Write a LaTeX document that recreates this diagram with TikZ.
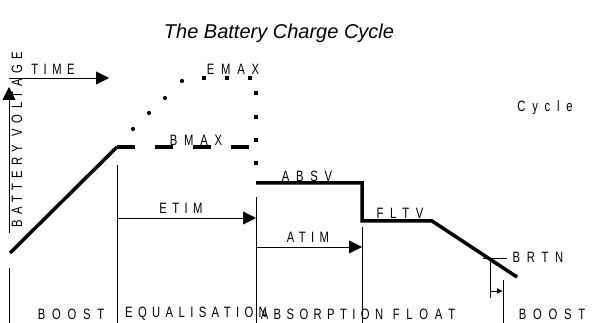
\documentclass[tikz,border=0pt]{standalone}
\usepackage{fontspec}
\setmainfont{Liberation Sans}
\newfontfamily\wide[FakeStretch=0.75,LetterSpace=45]{Liberation Sans}
\newfontfamily\snug[FakeStretch=0.75,LetterSpace=36]{Liberation Sans}
\usetikzlibrary{arrows.meta,positioning}
\tikzset{
  charge/.style={line width=3.5pt},
  guide/.style={line width=0.9pt},
  bigarrow/.style={guide,-{Triangle[length=13pt,width=13pt]}},
  lbl/.style={font=\wide\fontsize{15}{15}\selectfont,inner sep=0pt},
  stage/.style={font=\snug\fontsize{15}{15}\selectfont,inner sep=0pt},
}

\begin{document}
\begin{tikzpicture}[x=1pt,y=-1pt]
    \useasboundingbox (0,0) rectangle (600,323);
    \node (title) at (279,33) {\fontsize{20}{20}\selectfont\itshape The Battery Charge Cycle};

    % axes
    \coordinate (ax0) at (9,233);
    \coordinate (ax1) at (9,87);
    \coordinate (ax2) at (9,268);
    \coordinate (ax3) at (9,323);
    \coordinate (tm0) at (9,78);
    \coordinate (tm1) at (109,78);
    \draw[bigarrow] (ax0) -- (ax1);
    \draw[guide] (ax2) -- (ax3);
    \draw[bigarrow] (tm0) -- (tm1);
    \node[stage,rotate=90] (volt) at (17,140) {BATTERY VOLTAGE};
    \node[stage] (time) at (53,69) {TIME};

    % charge curve
    \coordinate (c0) at (10,253);
    \coordinate (c1) at (117,147);
    \coordinate (c2) at (250,147);
    \coordinate (a0) at (256,183);
    \coordinate (a1) at (362,183);
    \coordinate (f0) at (362,221);
    \coordinate (f1) at (432,221);
    \coordinate (r1) at (517,277);
    \draw[charge] (c0) -- (c1);
    \draw[charge,dash pattern=on 18pt off 20pt] (c1) -- (c2);
    \draw[charge] (a0) -- (a1) -- (f0) -- (f1) -- (r1);
    \foreach \x/\y in {133/129,149/113,165/98,182/81}
      \fill (\x,\y) circle (2.1pt);
    \foreach \x/\y in {204/78,227/78,250/78,256/93,256/117,256/140,256/163}
      \fill (\x-1.9,\y-1.9) rectangle (\x+1.9,\y+1.9);

    \node[lbl] (emax) at (233,69) {EMAX};
    \node[lbl] (bmax) at (196,140) {BMAX};
    \node[lbl] (absv) at (307,176) {ABSV};
    \node[lbl] (fltv) at (400,213) {FLTV};
    \node[lbl] (cycle) at (545,108) {Cycle};

    % stage boundaries
    \coordinate (e0) at (117,165);
    \coordinate (e1) at (117,323);
    \coordinate (b0) at (256,197);
    \coordinate (b1) at (256,323);
    \coordinate (d0) at (362,227);
    \coordinate (d1) at (362,323);
    \draw[guide] (e0) -- (e1);
    \draw[guide] (b0) -- (b1);
    \draw[guide] (d0) -- (d1);

    % timers
    \coordinate (et0) at (117,218);
    \coordinate (et1) at (256,218);
    \coordinate (at0) at (256,247);
    \coordinate (at1) at (362,247);
    \draw[bigarrow] (et0) -- (et1);
    \draw[bigarrow] (at0) -- (at1);
    \node[stage] (etim) at (181,208) {ETIM};
    \node[stage] (atim) at (308,237) {ATIM};

    % return to boost
    \coordinate (br0) at (483,258);
    \coordinate (br1) at (507,258);
    \coordinate (rv0) at (490,258);
    \coordinate (rv1) at (490,298);
    \coordinate (rw0) at (503,280);
    \coordinate (rw1) at (503,323);
    \coordinate (rd0) at (490,291);
    \coordinate (rd1) at (503,291);
    \draw[guide] (br0) -- (br1);
    \draw[guide] (rv0) -- (rv1);
    \draw[guide] (rw0) -- (rw1);
    \draw[guide,-{Latex[length=6pt,width=6pt]}] (rd0) -- (rd1);
    \node[lbl] (brtn) at (538,257) {BRTN};

    % stage names
    \node[lbl] (boost) at (71,314) {BOOST};
    \node[stage] (equal) at (196,314) {EQUALISATION};
    \node[stage] (absorb) at (322,314) {ABSORPTION};
    \node[lbl] (float) at (424,314) {FLOAT};
    \node[lbl] (boostb) at (552,314) {BOOST};
\end{tikzpicture}
\end{document}
